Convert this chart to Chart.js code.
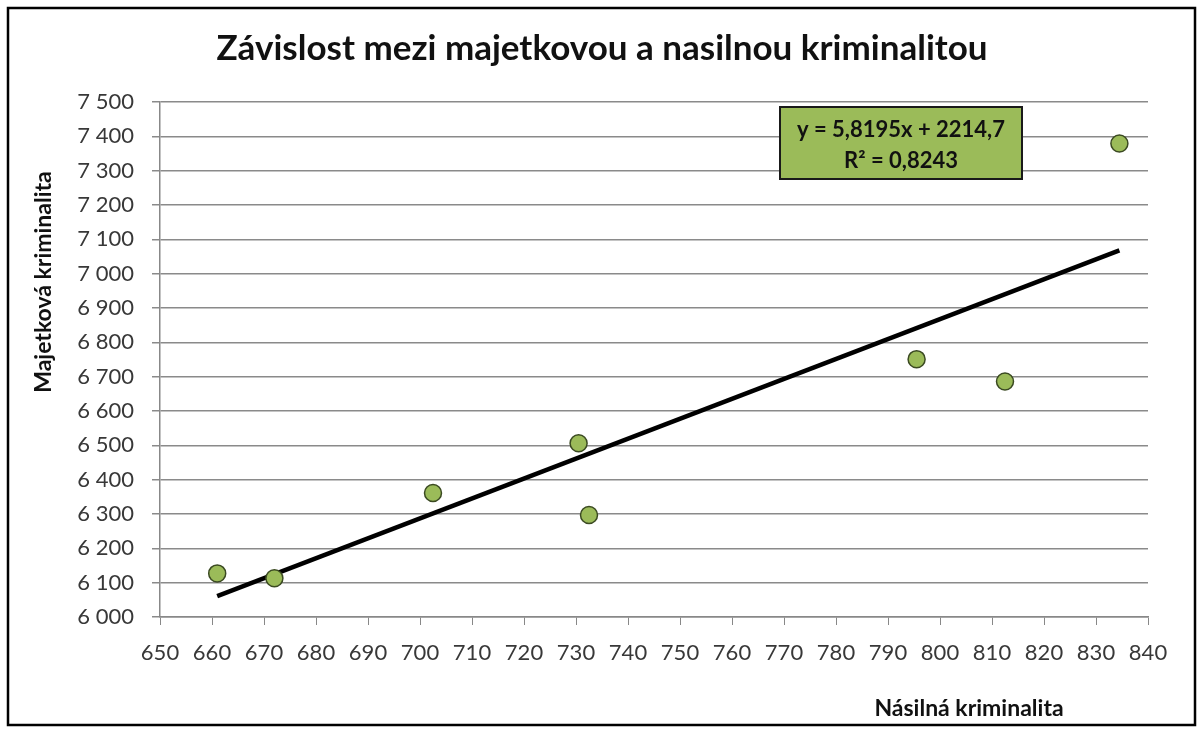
<!DOCTYPE html>
<html>
<head>
<meta charset="utf-8">
<script src="https://cdn.jsdelivr.net/npm/chart.js@4"></script>
<style>
  html, body { margin: 0; padding: 0; background: #fff; }
  #wrap { width: 1203px; height: 733px; position: relative; }
</style>
</head>
<body>
<div id="wrap"><canvas id="c" width="1203" height="733"></canvas></div>
<script>
// data
const violentCrime = [661, 672, 702.5, 730.5, 732.5, 795.5, 812.5, 834.5];
const propertyCrime = [6127, 6113, 6361, 6506, 6297, 6751, 6686, 7379];
const trendX = [661, 834.5];
const trendY = [6061, 7068];

const chartTitle = 'Závislost mezi majetkovou a nasilnou kriminalitou';
const xTitle = 'Násilná kriminalita';
const yTitle = 'Majetková kriminalita';
const eqLines = ['y = 5,8195x + 2214,7', 'R² = 0,8243'];

const FONT = 'Lato, "Open Sans", sans-serif';

function fmt(v) {
  return String(v).replace(/\B(?=(\d{3})+(?!\d))/g, ' ');
}

// titulky, rámeček a rovnice
const decor = {
  id: 'decor',
  beforeDraw(chart) {
    const ctx = chart.ctx;
    ctx.save();
    ctx.fillStyle = '#fff';
    ctx.fillRect(0, 0, chart.width, chart.height);
    ctx.restore();
  },
  afterDraw(chart) {
    const ctx = chart.ctx;
    ctx.save();
    // outer border
    ctx.strokeStyle = '#000';
    ctx.lineWidth = 2.5;
    ctx.strokeRect(8, 8, 1187, 717);

    ctx.fillStyle = '#111';
    ctx.textAlign = 'center';
    ctx.textBaseline = 'alphabetic';
    ctx.font = 'bold 35px ' + FONT;
    ctx.fillText(chartTitle, 602, 60);

    ctx.font = 'bold 23px ' + FONT;
    ctx.fillText(xTitle, 969, 716);

    ctx.save();
    ctx.translate(44, 282);
    ctx.rotate(-Math.PI / 2);
    ctx.textBaseline = 'middle';
    ctx.fillText(yTitle, 0, 0);
    ctx.restore();

    // equation box
    ctx.fillStyle = '#9bbb59';
    ctx.fillRect(780, 107, 242, 72);
    ctx.strokeStyle = '#1a1a1a';
    ctx.lineWidth = 2;
    ctx.strokeRect(780, 107, 242, 72);
    ctx.fillStyle = '#111';
    ctx.font = 'bold 22px ' + FONT;
    ctx.fillText(eqLines[0], 901, 137);
    ctx.fillText(eqLines[1], 901, 168);
    ctx.restore();
  }
};

new Chart(document.getElementById('c'), {
  type: 'scatter',
  data: {
    datasets: [
      {
        label: 'trend',
        type: 'line',
        data: trendX.map((x, i) => ({ x: x, y: trendY[i] })),
        borderColor: '#000',
        borderWidth: 4.5,
        pointRadius: 0,
        fill: false,
        order: 1
      },
      {
        label: 'data',
        data: violentCrime.map((x, i) => ({ x: x, y: propertyCrime[i] })),
        backgroundColor: '#9bbb59',
        borderColor: '#3b4a22',
        borderWidth: 1.5,
        pointRadius: 8.5,
        order: 0
      }
    ]
  },
  options: {
    responsive: false,
    animation: false,
    devicePixelRatio: 1,
    layout: { padding: { left: 0, right: 55, top: 102, bottom: 0 } },
    plugins: {
      legend: { display: false },
      tooltip: { enabled: false },
      title: { display: false }
    },
    scales: {
      x: {
        type: 'linear',
        min: 650, max: 840,
        afterFit(s) { s.height = 116; },
        ticks: { stepSize: 10, color: '#383838', font: { family: FONT, size: 22 }, padding: 15, maxRotation: 0 },
        grid: { drawOnChartArea: false, drawTicks: true, tickLength: 8, color: '#888' },
        border: { display: true, color: '#888', width: 1.5 }
      },
      y: {
        type: 'linear',
        min: 6000, max: 7500,
        afterFit(s) { s.width = 160; },
        ticks: { stepSize: 100, color: '#383838', font: { family: FONT, size: 22 }, padding: 18, callback: v => fmt(v) },
        grid: { color: '#8a8a8a', lineWidth: 1.5, drawTicks: true, tickLength: 8 },
        border: { display: true, color: '#888', width: 1.5 }
      }
    }
  },
  plugins: [decor]
});
</script>
</body>
</html>
